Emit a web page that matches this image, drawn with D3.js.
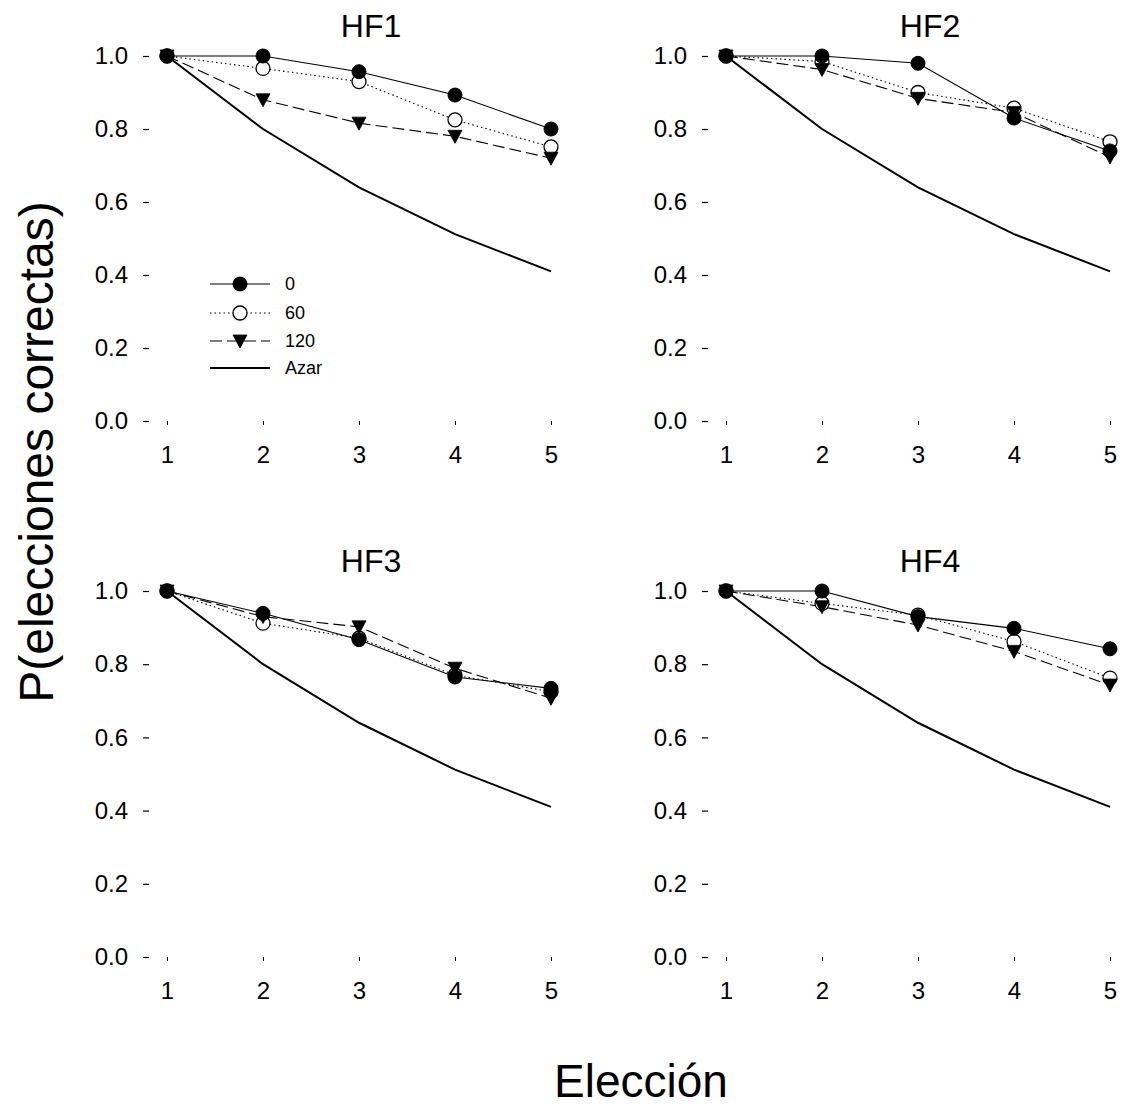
<!DOCTYPE html>
<html>
<head>
<meta charset="utf-8">
<script src="https://cdn.jsdelivr.net/npm/d3@7"></script>
<style>
  html, body { margin: 0; padding: 0; background: #fff; }
  svg { display: block; font-family: "Liberation Sans", Arial, sans-serif; }
</style>
</head>
<body>
<svg id="chart" width="1135" height="1108"></svg>
<script>
// Choice number (x) and proportion of correct choices per delay group
const choices = [1, 2, 3, 4, 5];
const panelNames = ["HF1", "HF2", "HF3", "HF4"];
const delayLabels = ["0", "60", "120", "Azar"];
const yTicks = [0, 0.2, 0.4, 0.6, 0.8, 1.0];

const hf1Delay0   = [1.00, 1.00, 0.957, 0.893, 0.800];
const hf1Delay60  = [1.00, 0.966, 0.930, 0.825, 0.751];
const hf1Delay120 = [1.00, 0.880, 0.816, 0.780, 0.720];

const hf2Delay0   = [1.00, 1.00, 0.980, 0.830, 0.740];
const hf2Delay60  = [1.00, 0.985, 0.900, 0.857, 0.765];
const hf2Delay120 = [1.00, 0.963, 0.884, 0.845, 0.723];

const hf3Delay0   = [1.00, 0.939, 0.867, 0.765, 0.734];
const hf3Delay60  = [1.00, 0.912, 0.871, 0.770, 0.725];
const hf3Delay120 = [1.00, 0.930, 0.902, 0.789, 0.707];

const hf4Delay0   = [1.00, 1.00, 0.930, 0.898, 0.842];
const hf4Delay60  = [1.00, 0.966, 0.934, 0.862, 0.762];
const hf4Delay120 = [1.00, 0.957, 0.907, 0.835, 0.743];

// Chance level ("Azar")
const chance = [1.00, 0.80, 0.64, 0.512, 0.41];

const panelSeries = [
  [hf1Delay0, hf1Delay60, hf1Delay120],
  [hf2Delay0, hf2Delay60, hf2Delay120],
  [hf3Delay0, hf3Delay60, hf3Delay120],
  [hf4Delay0, hf4Delay60, hf4Delay120]
];

const svg = d3.select("#chart");

// Panel frames: columns and rows
const colX = [167, 726];
const plotW = 384;
const rowY = [[56, 421], [591, 957]];

// Series styling: 0 = filled circle/solid, 60 = open circle/dotted, 120 = filled triangle/dashed
const lineDash = ["none", "1.5,3", "12,5"];
const triPath = "M-7,-6L7,-6L0,7Z";

function drawMarker(g, kind, cx, cy) {
  if (kind === 0) {
    g.append("circle").attr("cx", cx).attr("cy", cy).attr("r", 7)
      .attr("fill", "#000").attr("stroke", "#000").attr("stroke-width", 1);
  } else if (kind === 1) {
    g.append("circle").attr("cx", cx).attr("cy", cy).attr("r", 7)
      .attr("fill", "#fff").attr("stroke", "#000").attr("stroke-width", 1.3);
  } else {
    g.append("path").attr("d", triPath)
      .attr("transform", `translate(${cx},${cy})`)
      .attr("fill", "#000").attr("stroke", "#000").attr("stroke-width", 0.8);
  }
}

panelNames.forEach((name, i) => {
  const x0 = colX[i % 2];
  const [yTop, yBot] = rowY[Math.floor(i / 2)];
  const x = d3.scaleLinear().domain([1, 5]).range([x0, x0 + plotW]);
  const y = d3.scaleLinear().domain([0, 1]).range([yBot, yTop]);
  const g = svg.append("g");

  // Y axis: short dash ticks set off from the data, no axis line
  const yAxis = g.append("g")
    .attr("transform", `translate(${x0 - 18},0)`)
    .call(d3.axisLeft(y).tickValues(yTicks).tickFormat(d3.format(".1f"))
      .tickSize(6).tickPadding(15));
  yAxis.select(".domain").remove();
  yAxis.selectAll("line").attr("stroke", "#000").attr("stroke-width", 1.2);
  yAxis.selectAll("text").attr("font-size", 24).attr("fill", "#000")
    .attr("font-family", "Liberation Sans, Arial, sans-serif");

  // X axis: tiny vertical ticks just below the zero level, labels further down
  const xAxis = g.append("g")
    .attr("transform", `translate(0,${yBot})`)
    .call(d3.axisBottom(x).tickValues(choices).tickFormat(d3.format("d"))
      .tickSize(4).tickPadding(21));
  xAxis.select(".domain").remove();
  xAxis.selectAll("line").attr("stroke", "#000").attr("stroke-width", 1)
    .attr("y1", 0);
  xAxis.selectAll("text").attr("font-size", 24).attr("fill", "#000")
    .attr("font-family", "Liberation Sans, Arial, sans-serif");

  // Panel title
  g.append("text").attr("x", x0 + 204).attr("y", yTop - 19)
    .attr("text-anchor", "middle").attr("font-size", 32).text(name);

  // Chance curve
  const line = d3.line().x((d, k) => x(choices[k])).y(d => y(d));
  g.append("path").datum(chance).attr("d", line)
    .attr("fill", "none").attr("stroke", "#000").attr("stroke-width", 2);

  // Group lines
  panelSeries[i].forEach((vals, s) => {
    g.append("path").datum(vals).attr("d", line)
      .attr("fill", "none").attr("stroke", "#000").attr("stroke-width", 1.1)
      .attr("stroke-dasharray", lineDash[s]);
  });

  // Markers: open circles first, then filled circles, then triangles
  [1, 0, 2].forEach(s => {
    panelSeries[i][s].forEach((v, k) => drawMarker(g, s, x(choices[k]), y(v)));
  });
});

// Legend in the first panel
const legend = svg.append("g");
const legendRows = [284, 313, 341, 368];
delayLabels.forEach((lab, s) => {
  const ly = legendRows[s];
  if (s < 3) {
    legend.append("line").attr("x1", 210).attr("x2", 270).attr("y1", ly).attr("y2", ly)
      .attr("stroke", "#000").attr("stroke-width", 1.1).attr("stroke-dasharray", lineDash[s]);
    drawMarker(legend, s, 240, ly);
  } else {
    legend.append("line").attr("x1", 210).attr("x2", 270).attr("y1", ly).attr("y2", ly)
      .attr("stroke", "#000").attr("stroke-width", 2);
  }
  legend.append("text").attr("x", 285).attr("y", ly + 6)
    .attr("font-size", 18).text(lab);
});

// Axis titles
svg.append("text").attr("x", 641).attr("y", 1097)
  .attr("text-anchor", "middle").attr("font-size", 46).text("Elección");

svg.append("text")
  .attr("transform", "translate(53,452) rotate(-90)")
  .attr("text-anchor", "middle").attr("font-size", 48).text("P(elecciones correctas)");
</script>
</body>
</html>
